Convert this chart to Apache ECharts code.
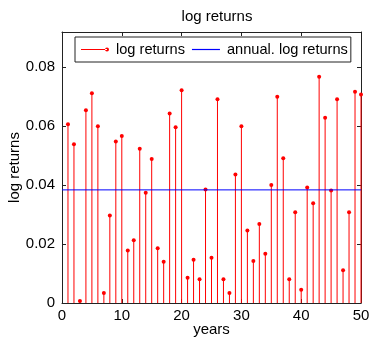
<!DOCTYPE html>
<html>
<head>
<meta charset="utf-8">
<script src="https://cdn.jsdelivr.net/npm/echarts@6/dist/echarts.min.js"></script>
<style>
  html, body { margin: 0; padding: 0; background: #fff; }
  #chart { width: 370px; height: 340px; }
</style>
</head>
<body>
<div id="chart"></div>
<script>
const years = [1,2,3,4,5,6,7,8,9,10,11,12,13,14,15,16,17,18,19,20,21,22,23,24,25,26,27,28,29,30,31,32,33,34,35,36,37,38,39,40,41,42,43,44,45,46,47,48,49,50];
const logReturns = [0.0607,0.0539,0.0007,0.0654,0.0712,0.0600,0.0034,0.0297,0.0548,0.0567,
                    0.0178,0.0213,0.0524,0.0374,0.0489,0.0186,0.0140,0.0643,0.0597,0.0722,
                    0.0086,0.0147,0.0081,0.0385,0.0154,0.0692,0.0081,0.0034,0.0436,0.0600,
                    0.0246,0.0143,0.0268,0.0167,0.0401,0.0700,0.0491,0.0081,0.0308,0.0045,
                    0.0392,0.0339,0.0768,0.0629,0.0382,0.0692,0.0111,0.0308,0.0717,0.0708];
const annualYears = [0, 50];
const annualLogReturn = [0.0384, 0.0384];
const xTicks = [0, 10, 20, 30, 40, 50];
const yTicks = [0, 0.02, 0.04, 0.06, 0.08];

const FONT = "'Liberation Sans', Arial, Helvetica, sans-serif";
const AX = '#222';

const chart = echarts.init(document.getElementById('chart'), null, { renderer: 'canvas' });

function yLabel(v) {
  for (const t of yTicks) { if (Math.abs(v - t) < 1e-9) return String(t); }
  return '';
}

const baseX = {
  type: 'value', min: 0, max: 50, interval: 10,
  splitLine: { show: false },
  axisLine: { show: true, onZero: false, lineStyle: { color: AX, width: 1 } },
  axisTick: { show: true, inside: true, length: 4, lineStyle: { color: AX } }
};
const baseY = {
  type: 'value', min: 0, max: 0.092, interval: 0.02,
  splitLine: { show: false },
  axisLine: { show: true, onZero: false, lineStyle: { color: AX, width: 1 } },
  axisTick: { show: true, inside: true, length: 4, lineStyle: { color: AX } }
};

const option = {
  backgroundColor: '#fff',
  animation: false,
  title: {
    text: 'log returns', left: 212, top: 4, textAlign: 'center',
    textStyle: { fontFamily: FONT, fontSize: 15, fontWeight: 'normal', color: '#000' }
  },
  legend: {
    left: 75, top: 37, orient: 'horizontal', symbolKeepAspect: true,
    backgroundColor: '#fff', borderColor: AX, borderWidth: 1,
    padding: [3, 3, 3, 6], itemGap: 7, itemWidth: 28, itemHeight: 4,
    textStyle: { fontFamily: FONT, fontSize: 14.6, color: '#000', lineHeight: 19, padding: [0, 0, 0, 2] },
    data: [
      { name: 'log returns',
        icon: 'path://M0,1.5 L26,1.5 L26,2.5 L0,2.5 Z M24,2 A2,2 0 1,0 28,2 A2,2 0 1,0 24,2 Z',
        itemStyle: { color: '#ff0000', borderColor: '#ff0000', borderWidth: 0 } },
      { name: 'annual. log returns',
        icon: 'path://M0,0 L28,0 L28,1.2 L0,1.2 Z',
        itemStyle: { color: '#0000ff', borderColor: '#0000ff', borderWidth: 0 } }
    ]
  },
  grid: { left: 62, right: 9, top: 32, bottom: 37, containLabel: false, outerBoundsMode: 'none' },
  xAxis: [
    Object.assign({}, baseX, {
      position: 'bottom',
      axisLabel: { color: '#000', fontFamily: FONT, fontSize: 15, margin: 5,
        formatter: v => xTicks.includes(v) ? String(v) : '' },
      name: 'years', nameLocation: 'middle', nameGap: 19, nameMoveOverlap: false,
      nameTextStyle: { fontFamily: FONT, fontSize: 15, color: '#000' }
    }),
    Object.assign({}, baseX, { position: 'top', axisLabel: { show: false } })
  ],
  yAxis: [
    Object.assign({}, baseY, {
      position: 'left',
      axisLabel: { color: '#000', fontFamily: FONT, fontSize: 15, margin: 7, formatter: yLabel },
      name: 'log returns', nameLocation: 'middle', nameGap: 40, nameRotate: 90, nameMoveOverlap: false,
      nameTextStyle: { fontFamily: FONT, fontSize: 15, color: '#000' }
    }),
    Object.assign({}, baseY, { position: 'right', axisLabel: { show: false } })
  ],
  series: [
    {
      name: 'log returns', type: 'custom', xAxisIndex: 0, yAxisIndex: 0,
      color: '#ff0000', itemStyle: { color: '#ff0000', borderColor: '#ff0000' },
      data: years.map((y, i) => [y, logReturns[i]]),
      renderItem: function (params, api) {
        const x = api.value(0), v = api.value(1);
        const p0 = api.coord([x, 0]);
        const p1 = api.coord([x, v]);
        return {
          type: 'group',
          children: [
            { type: 'line', shape: { x1: p0[0], y1: p0[1], x2: p1[0], y2: p1[1] },
              style: { stroke: '#ff0000', lineWidth: 1 } },
            { type: 'circle', shape: { cx: p1[0], cy: p1[1], r: 2 },
              style: { fill: '#ff0000' } }
          ]
        };
      }
    },
    {
      name: 'annual. log returns', type: 'custom', xAxisIndex: 0, yAxisIndex: 0,
      color: '#0000ff', itemStyle: { color: '#0000ff', borderColor: '#0000ff' },
      data: annualYears.map((y, i) => [y, annualLogReturn[i]]),
      renderItem: function (params, api) {
        const i = params.dataIndex;
        if (i + 1 >= annualYears.length) return null;
        const a = api.coord([annualYears[i], annualLogReturn[i]]);
        const b = api.coord([annualYears[i + 1], annualLogReturn[i + 1]]);
        return { type: 'line', shape: { x1: a[0], y1: a[1], x2: b[0], y2: b[1] },
                 style: { stroke: '#0000ff', lineWidth: 1 } };
      }
    }
  ]
};
chart.setOption(option);
</script>
</body>
</html>
